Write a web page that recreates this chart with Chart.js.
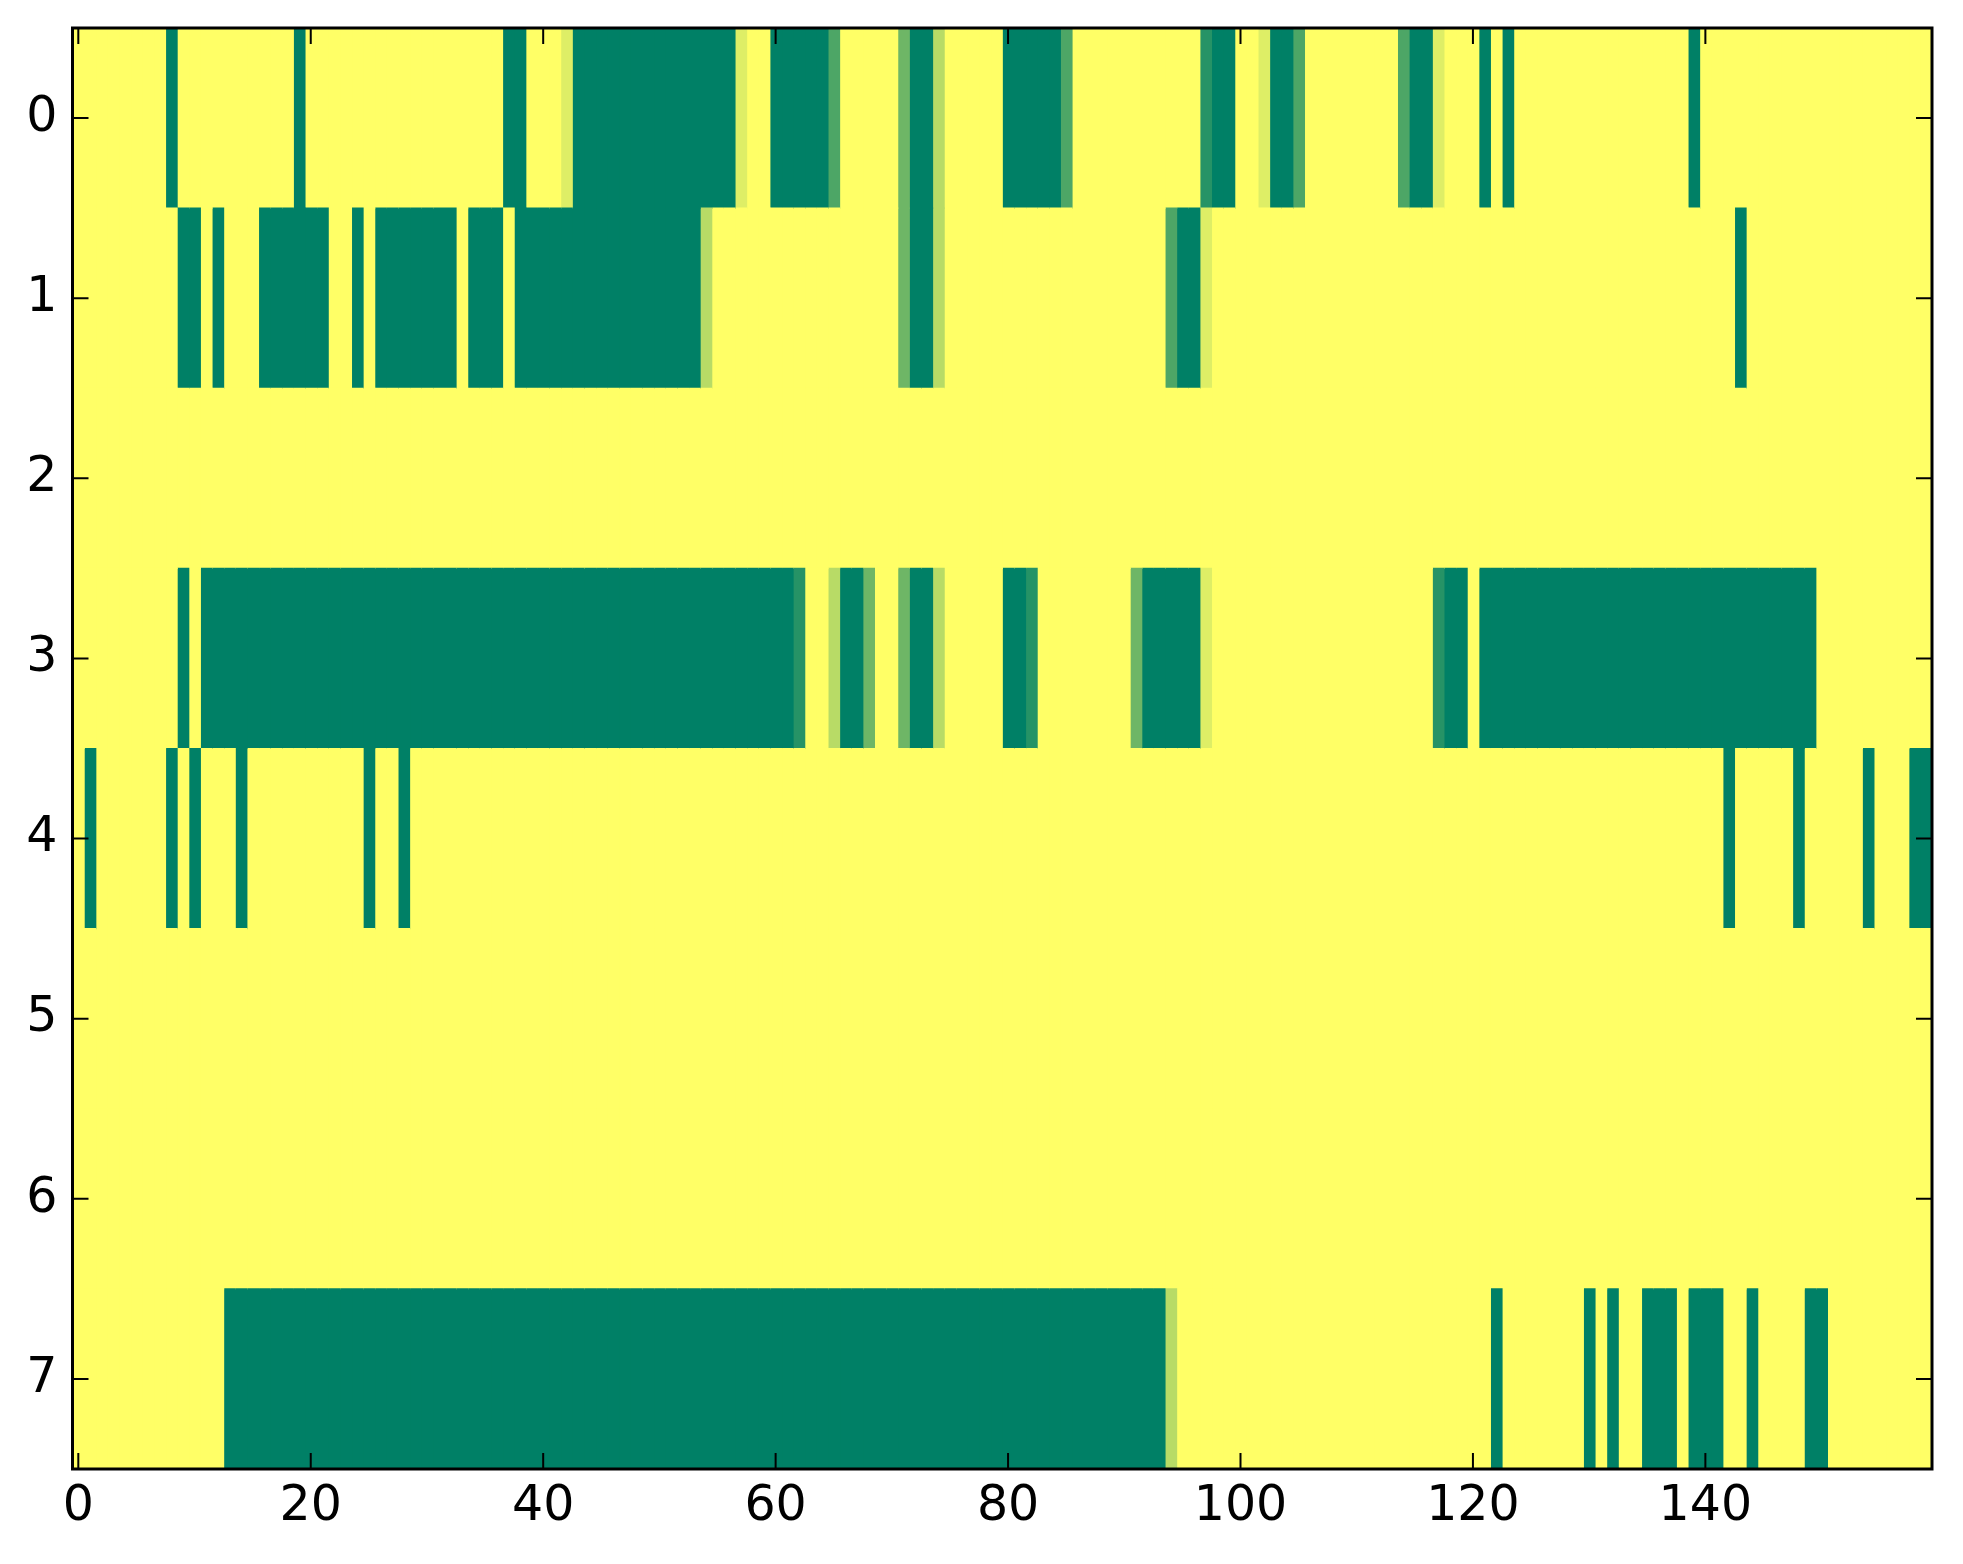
<!DOCTYPE html>
<html><head><meta charset="utf-8">
<script src="https://cdn.jsdelivr.net/npm/chart.js@4"></script>
<style>html,body{margin:0;padding:0;background:#fff}</style>
</head><body>
<canvas id="c" width="1963" height="1564" style="display:block;width:1963px;height:1564px"></canvas>
<script>
// Row (y) category labels and x tick labels
const rowLabels = ['0','1','2','3','4','5','6','7'];
const xTickValues = [0,20,40,60,80,100,120,140];

// Cell values per row (160 columns each), 1 = yellow, 0 = green
const row0 = [
1,1,1,1,1,1,1,1,0,1, 1,1,1,1,1,1,1,1,1,0,
1,1,1,1,1,1,1,1,1,1, 1,1,1,1,1,1,1,0,0,1,
1,1,.87,0,0,0,0,0,0,0, 0,0,0,0,0,0,0,.87,1,1,
0,0,0,0,0,.3,1,1,1,1, 1,.43,0,0,.72,1,1,1,1,1,
0,0,0,0,0,.3,1,1,1,1, 1,1,1,1,1,1,1,.15,0,0,
1,1,.87,0,0,.3,1,1,1,1, 1,1,1,1,.3,0,0,.87,1,1,
1,0,1,0,1,1,1,1,1,1, 1,1,1,1,1,1,1,1,1,0,
1,1,1,1,1,1,1,1,1,1, 1,1,1,1,1,1,1,1,1,1
];
const row1 = [
1,1,1,1,1,1,1,1,1,0, 0,1,0,1,1,1,0,0,0,0,
0,0,1,1,0,1,0,0,0,0, 0,0,0,1,0,0,0,1,0,0,
0,0,0,0,0,0,0,0,0,0, 0,0,0,0,.72,1,1,1,1,1,
1,1,1,1,1,1,1,1,1,1, 1,.43,0,0,.72,1,1,1,1,1,
1,1,1,1,1,1,1,1,1,1, 1,1,1,1,.3,0,0,.87,1,1,
1,1,1,1,1,1,1,1,1,1, 1,1,1,1,1,1,1,1,1,1,
1,1,1,1,1,1,1,1,1,1, 1,1,1,1,1,1,1,1,1,1,
1,1,1,0,1,1,1,1,1,1, 1,1,1,1,1,1,1,1,1,1
];
const row2 = [
1,1,1,1,1,1,1,1,1,1, 1,1,1,1,1,1,1,1,1,1,
1,1,1,1,1,1,1,1,1,1, 1,1,1,1,1,1,1,1,1,1,
1,1,1,1,1,1,1,1,1,1, 1,1,1,1,1,1,1,1,1,1,
1,1,1,1,1,1,1,1,1,1, 1,1,1,1,1,1,1,1,1,1,
1,1,1,1,1,1,1,1,1,1, 1,1,1,1,1,1,1,1,1,1,
1,1,1,1,1,1,1,1,1,1, 1,1,1,1,1,1,1,1,1,1,
1,1,1,1,1,1,1,1,1,1, 1,1,1,1,1,1,1,1,1,1,
1,1,1,1,1,1,1,1,1,1, 1,1,1,1,1,1,1,1,1,1
];
const row3 = [
1,1,1,1,1,1,1,1,1,0, 1,0,0,0,0,0,0,0,0,0,
0,0,0,0,0,0,0,0,0,0, 0,0,0,0,0,0,0,0,0,0,
0,0,0,0,0,0,0,0,0,0, 0,0,0,0,0,0,0,0,0,0,
0,0,.15,1,1,.72,0,0,.43,1, 1,.43,0,0,.72,1,1,1,1,1,
0,0,.15,1,1,1,1,1,1,1, 1,.43,0,0,0,0,0,.87,1,1,
1,1,1,1,1,1,1,1,1,1, 1,1,1,1,1,1,1,.15,0,0,
1,0,0,0,0,0,0,0,0,0, 0,0,0,0,0,0,0,0,0,0,
0,0,0,0,0,0,0,0,0,0, 1,1,1,1,1,1,1,1,1,1
];
const row4 = [
1,0,1,1,1,1,1,1,0,1, 0,1,1,1,0,1,1,1,1,1,
1,1,1,1,1,0,1,1,0,1, 1,1,1,1,1,1,1,1,1,1,
1,1,1,1,1,1,1,1,1,1, 1,1,1,1,1,1,1,1,1,1,
1,1,1,1,1,1,1,1,1,1, 1,1,1,1,1,1,1,1,1,1,
1,1,1,1,1,1,1,1,1,1, 1,1,1,1,1,1,1,1,1,1,
1,1,1,1,1,1,1,1,1,1, 1,1,1,1,1,1,1,1,1,1,
1,1,1,1,1,1,1,1,1,1, 1,1,1,1,1,1,1,1,1,1,
1,1,0,1,1,1,1,1,0,1, 1,1,1,1,0,1,1,1,0,0
];
const row5 = [
1,1,1,1,1,1,1,1,1,1, 1,1,1,1,1,1,1,1,1,1,
1,1,1,1,1,1,1,1,1,1, 1,1,1,1,1,1,1,1,1,1,
1,1,1,1,1,1,1,1,1,1, 1,1,1,1,1,1,1,1,1,1,
1,1,1,1,1,1,1,1,1,1, 1,1,1,1,1,1,1,1,1,1,
1,1,1,1,1,1,1,1,1,1, 1,1,1,1,1,1,1,1,1,1,
1,1,1,1,1,1,1,1,1,1, 1,1,1,1,1,1,1,1,1,1,
1,1,1,1,1,1,1,1,1,1, 1,1,1,1,1,1,1,1,1,1,
1,1,1,1,1,1,1,1,1,1, 1,1,1,1,1,1,1,1,1,1
];
const row6 = [
1,1,1,1,1,1,1,1,1,1, 1,1,1,1,1,1,1,1,1,1,
1,1,1,1,1,1,1,1,1,1, 1,1,1,1,1,1,1,1,1,1,
1,1,1,1,1,1,1,1,1,1, 1,1,1,1,1,1,1,1,1,1,
1,1,1,1,1,1,1,1,1,1, 1,1,1,1,1,1,1,1,1,1,
1,1,1,1,1,1,1,1,1,1, 1,1,1,1,1,1,1,1,1,1,
1,1,1,1,1,1,1,1,1,1, 1,1,1,1,1,1,1,1,1,1,
1,1,1,1,1,1,1,1,1,1, 1,1,1,1,1,1,1,1,1,1,
1,1,1,1,1,1,1,1,1,1, 1,1,1,1,1,1,1,1,1,1
];
const row7 = [
1,1,1,1,1,1,1,1,1,1, 1,1,1,0,0,0,0,0,0,0,
0,0,0,0,0,0,0,0,0,0, 0,0,0,0,0,0,0,0,0,0,
0,0,0,0,0,0,0,0,0,0, 0,0,0,0,0,0,0,0,0,0,
0,0,0,0,0,0,0,0,0,0, 0,0,0,0,0,0,0,0,0,0,
0,0,0,0,0,0,0,0,0,0, 0,0,0,0,.72,1,1,1,1,1,
1,1,1,1,1,1,1,1,1,1, 1,1,1,1,1,1,1,1,1,1,
1,1,0,1,1,1,1,1,1,1, 0,1,0,1,1,0,0,0,1,0,
0,0,1,1,0,1,1,1,1,0, 0,1,1,1,1,1,1,1,1,1
];

const matrix = [row0,row1,row2,row3,row4,row5,row6,row7];
const nCols = row0.length;

// matplotlib "summer" colormap
function summer(v){
  return 'rgb(' + Math.round(255*v) + ',' + Math.round(127.5 + 127.5*v) + ',102)';
}

const datasets = [];
for (let c = 0; c < nCols; c++) {
  datasets.push({
    data: matrix.map(() => [c - 0.5, c + 0.5]),
    backgroundColor: matrix.map(r => summer(r[c])),
    borderWidth: 0,
    grouped: false,
    barPercentage: 1,
    categoryPercentage: 1,
    inflateAmount: 0.6
  });
}

const FONT = {family: 'DejaVu Sans', size: 49};

const frame = {
  id: 'frame',
  afterDraw(chart) {
    const {ctx, chartArea: a, scales: {x, y}} = chart;
    ctx.save();
    ctx.strokeStyle = '#000';
    ctx.lineWidth = 2;
    const L = 16;
    ctx.beginPath();
    x.ticks.forEach(t => {
      const px = x.getPixelForValue(t.value);
      ctx.moveTo(px, a.bottom); ctx.lineTo(px, a.bottom - L);
      ctx.moveTo(px, a.top); ctx.lineTo(px, a.top + L);
    });
    y.ticks.forEach((t, i) => {
      const py = y.getPixelForTick(i);
      ctx.moveTo(a.left, py); ctx.lineTo(a.left + L, py);
      ctx.moveTo(a.right, py); ctx.lineTo(a.right - L, py);
    });
    ctx.stroke();
    ctx.lineWidth = 3;
    ctx.strokeRect(a.left, a.top, a.right - a.left, a.bottom - a.top);
    ctx.restore();
  }
};

new Chart(document.getElementById('c'), {
  type: 'bar',
  data: {labels: rowLabels, datasets},
  options: {
    indexAxis: 'y',
    responsive: false,
    devicePixelRatio: 1,
    animation: false,
    layout: {padding: {top: 28, right: 31, left: 0, bottom: 0}},
    plugins: {legend: {display: false}, tooltip: {enabled: false}},
    scales: {
      x: {
        type: 'linear', position: 'bottom', min: -0.5, max: 159.5,
        afterBuildTicks: s => { s.ticks = xTickValues.map(v => ({value: v})); },
        afterFit: s => { s.height = 95; s.paddingLeft = 0; s.paddingRight = 0; },
        grid: {display: false, drawTicks: false},
        border: {display: false},
        ticks: {font: FONT, color: '#000', padding: 9, maxRotation: 0, autoSkip: false}
      },
      y: {
        type: 'category', position: 'left', offset: true,
        afterFit: s => { s.width = 72.5; s.paddingTop = 0; s.paddingBottom = 0; },
        grid: {display: false, drawTicks: false},
        border: {display: false},
        ticks: {font: FONT, color: '#000', padding: 15, autoSkip: false}
      }
    }
  },
  plugins: [frame]
});
</script>
</body></html>
